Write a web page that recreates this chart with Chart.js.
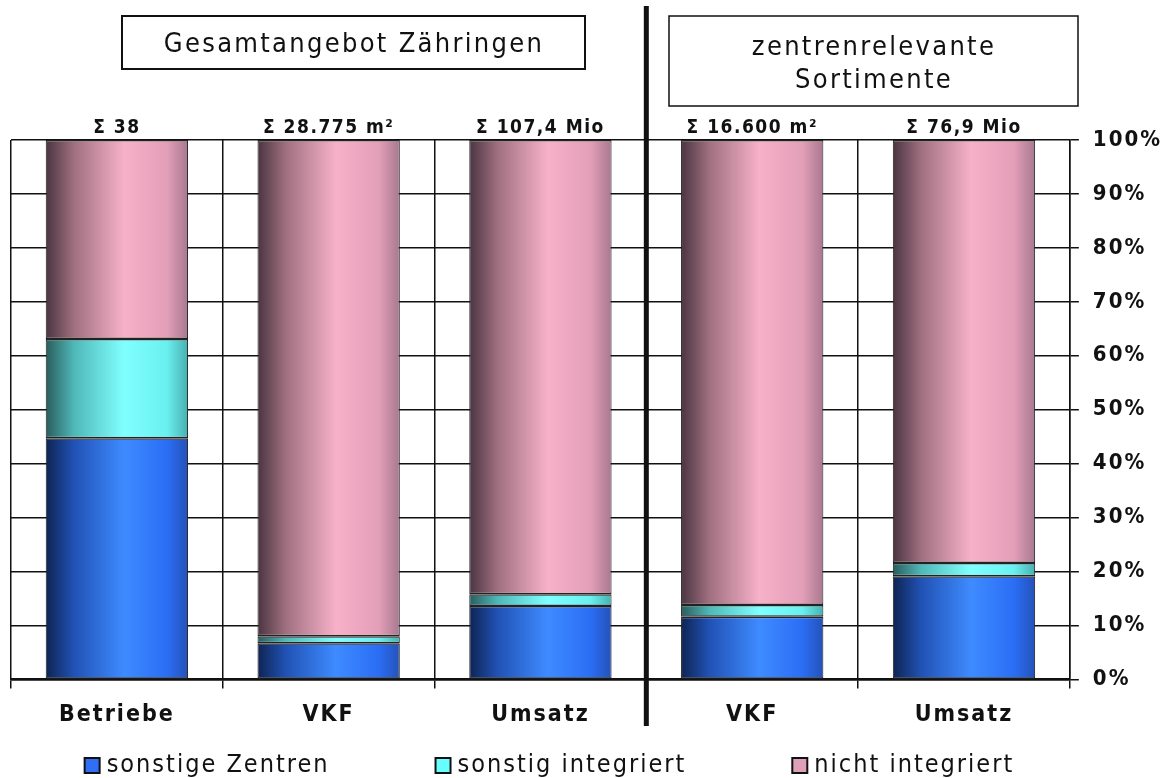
<!DOCTYPE html>
<html>
<head>
<meta charset="utf-8">
<script src="https://cdn.jsdelivr.net/npm/chart.js@4/dist/chart.umd.min.js"></script>
<style>
  html, body { margin: 0; padding: 0; background: #fff; }
  #wrap { width: 1170px; height: 778px; }
</style>
</head>
<body>
<div id="wrap"><canvas id="chart" width="1170" height="778"></canvas></div>
<script>
// categories and values (percent of each column)
const categories = ['Betriebe', 'VKF', 'Umsatz', 'VKF', 'Umsatz'];
const sumLabels = ['\u03a3 38', '\u03a3 28.775 m\u00b2', '\u03a3 107,4 Mio', '\u03a3 16.600 m\u00b2', '\u03a3 76,9 Mio'];
const sonstigeZentren = [44.7, 6.7, 13.6, 11.6, 19.1];
const sonstigIntegriert = [18.4, 1.3, 2.2, 2.2, 2.5];
const nichtIntegriert = [36.9, 92.0, 84.2, 86.2, 78.4];
const groupTitles = [['Gesamtangebot Zähringen'], ['zentrenrelevante', 'Sortimente']];

const FONT = "'DejaVu Sans Condensed', 'Noto Sans', sans-serif";
const BAR_PCT = 0.672;

function cylinder(stops, solid) {
    return function (ctx) {
        const chart = ctx.chart;
        if (!chart.chartArea || ctx.dataIndex == null) return solid;
        const xs = chart.scales.x;
        const cx = xs.getPixelForValue(ctx.dataIndex);
        const half = xs.width / categories.length * BAR_PCT / 2;
        const g = chart.ctx.createLinearGradient(cx - half, 0, cx + half, 0);
        g.addColorStop(0, stops[0]);
        g.addColorStop(0.2, stops[1]);
        g.addColorStop(0.55, stops[2]);
        g.addColorStop(0.85, stops[3]);
        g.addColorStop(1, stops[4]);
        return g;
    };
}

const legendItems = [
    { text: 'sonstige Zentren', color: '#2f6ef5' },
    { text: 'sonstig integriert', color: '#66ffff' },
    { text: 'nicht integriert', color: '#dea0b8' }
];

const spacing = {
    id: 'spacing',
    beforeUpdate(chart) { chart.ctx.letterSpacing = '2px'; },
    beforeDraw(chart) { chart.ctx.letterSpacing = '2px'; }
};

const extras = {
    id: 'extras',
    afterDraw(chart) {
        const c = chart.ctx;
        const xs = chart.scales.x;
        const area = chart.chartArea;
        c.save();

        // sums above columns
        c.fillStyle = '#111';
        c.font = 'bold 19px ' + FONT;
        c.letterSpacing = '1.5px';
        c.textAlign = 'center';
        c.textBaseline = 'alphabetic';
        sumLabels.forEach((s, i) => {
            c.fillText(s, xs.getPixelForValue(i), area.top - 7);
        });

        // group title boxes
        c.font = '27px ' + FONT;
        c.letterSpacing = '2.3px';
        c.strokeStyle = '#111';
        c.lineWidth = 2;
        c.strokeRect(122, 16, 463, 53);
        c.fillText(groupTitles[0][0], 354, 52);
        c.lineWidth = 1.5;
        c.strokeRect(669, 16, 409, 90);
        c.fillText(groupTitles[1][0], 874, 55);
        c.fillText(groupTitles[1][1], 874, 88);

        // thick separator between the two groups
        const sx = (xs.getPixelForValue(2) + xs.getPixelForValue(3)) / 2;
        c.beginPath();
        c.lineWidth = 5;
        c.moveTo(sx, 6);
        c.lineTo(sx, 726);
        c.stroke();

        // legend
        c.font = '25px ' + FONT;
        c.letterSpacing = '2px';
        c.textAlign = 'left';
        c.textBaseline = 'middle';
        const gap = 106, box = 15, boxGap = 7;
        const widths = legendItems.map(it => box + boxGap + c.measureText(it.text).width);
        const total = widths.reduce((a, b) => a + b, 0) + gap * (legendItems.length - 1);
        let x = (area.left + area.right) / 2 + 9 - total / 2;
        const y = 765;
        legendItems.forEach((it, i) => {
            c.fillStyle = it.color;
            c.fillRect(x, y - 7, box, box);
            c.lineWidth = 2;
            c.strokeStyle = '#111';
            c.strokeRect(x, y - 7, box, box);
            c.fillStyle = '#111';
            c.fillText(it.text, x + box + boxGap, y);
            x += widths[i] + gap;
        });
        c.restore();
    }
};

const ctx = document.getElementById('chart').getContext('2d');
const chart = new Chart(ctx, {
    type: 'bar',
    data: {
        labels: categories,
        datasets: [{
            label: 'sonstige Zentren',
            data: sonstigeZentren,
            backgroundColor: cylinder(['#0e2452', '#2152b5', '#3e8bff', '#2b6ef5', '#2452b8'], '#2f6ef5')
        }, {
            label: 'sonstig integriert',
            data: sonstigIntegriert,
            backgroundColor: cylinder(['#2a5c5c', '#4fb8b8', '#80ffff', '#6af0f0', '#48b0b0'], '#66ffff')
        }, {
            label: 'nicht integriert',
            data: nichtIntegriert,
            backgroundColor: cylinder(['#4a3440', '#a07080', '#f7b1c9', '#e49fb8', '#a87890'], '#dea0b8')
        }]
    },
    options: {
        responsive: false,
        animation: false,
        layout: { padding: { left: 11, top: 140, right: -6, bottom: 36 } },
        datasets: {
            bar: {
                categoryPercentage: 1,
                barPercentage: BAR_PCT,
                borderColor: '#222',
                borderWidth: { top: 1.5, bottom: 1.5, left: 1, right: 1 },
                borderSkipped: false
            }
        },
        plugins: {
            legend: { display: false },
            tooltip: { enabled: false }
        },
        scales: {
            x: {
                stacked: true,
                grid: { offset: true, color: '#111', lineWidth: 1.5, tickLength: 9 },
                border: { color: '#111', width: 2.5 },
                ticks: { color: '#111', padding: 13, font: { family: FONT, size: 23, weight: 'bold' } }
            },
            y: {
                stacked: true,
                position: 'right',
                min: 0,
                max: 100,
                grid: { color: '#111', lineWidth: 1.5, tickLength: 9 },
                border: { color: '#111', width: 1.5 },
                ticks: {
                    stepSize: 10,
                    color: '#111',
                    padding: 14,
                    font: { family: FONT, size: 22, weight: 'bold' },
                    callback: v => v + '%'
                }
            }
        }
    },
    plugins: [spacing, extras]
});
</script>
</body>
</html>
